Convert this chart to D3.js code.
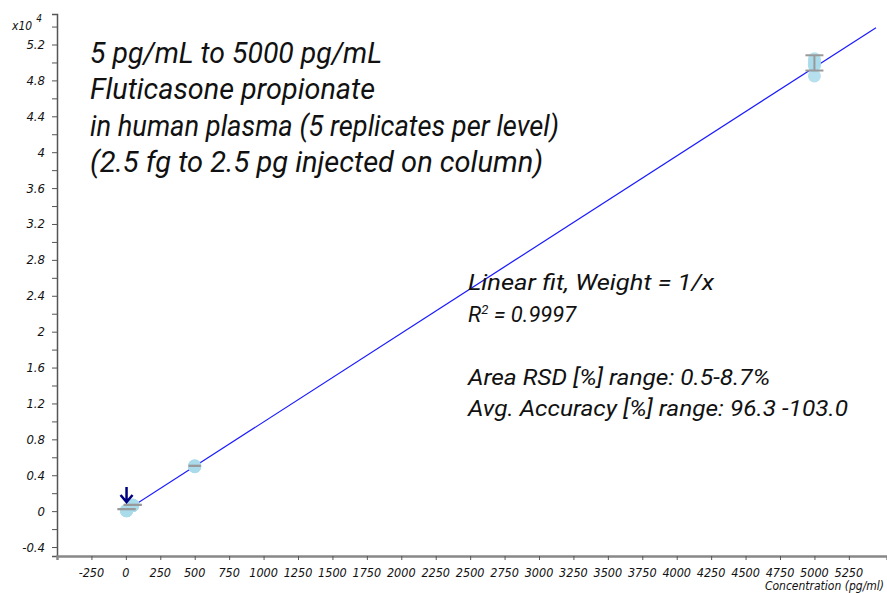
<!DOCTYPE html>
<html>
<head>
<meta charset="utf-8">
<script src="https://cdn.jsdelivr.net/npm/d3@7"></script>
<style>
  body { margin: 0; background: #fff; }
  svg text { font-family: "DejaVu Sans Condensed", sans-serif; font-style: italic; fill: #111; }
  svg text.big { font-family: Roboto, "DejaVu Sans Condensed", sans-serif; font-weight: 400; }
</style>
</head>
<body>
<div id="root"></div>
<script>
// calibration levels (pg/mL) and replicate responses (x10^4)
const levels = [5, 50, 500, 5000];
const replicates = [
  [0.004, 0.006, 0.005, 0.003, 0.007],
  [0.062, 0.066, 0.068, 0.064, 0.065],
  [0.495, 0.502, 0.505, 0.498, 0.500],
  [5.04, 5.01, 4.98, 4.96, 4.85]
];
const errLow  = [0.022, 0.070, 0.505, 4.91];
const errHigh = [0.022, 0.070, 0.505, 5.08];

// fit line y = slope * x + intercept
const fitSlope = 0.000988, fitIntercept = 0.006;
const fitRange = [5, 5447];

const yTicks = [-0.4, -0.2, 0, 0.2, 0.4, 0.6, 0.8, 1, 1.2, 1.4, 1.6, 1.8, 2, 2.2, 2.4, 2.6, 2.8, 3, 3.2, 3.4, 3.6, 3.8, 4, 4.2, 4.4, 4.6, 4.8, 5, 5.2, 5.4];
const yLabels = [-0.4, 0, 0.4, 0.8, 1.2, 1.6, 2, 2.4, 2.8, 3.2, 3.6, 4, 4.4, 4.8, 5.2];
const xTicks = [-250, 0, 250, 500, 750, 1000, 1250, 1500, 1750, 2000, 2250, 2500, 2750, 3000, 3250, 3500, 3750, 4000, 4250, 4500, 4750, 5000, 5250];

const titleLines = ['5 pg/mL to 5000 pg/mL', 'Fluticasone propionate', 'in human plasma (5 replicates per level)', '(2.5 fg to 2.5 pg injected on column)'];
const infoLines = ['Linear fit, Weight = 1/x', 'R2 = 0.9997', '', 'Area RSD [%] range: 0.5-8.7%', 'Avg. Accuracy [%] range: 96.3 -103.0'];

const width = 887, height = 593;
// widths of the text lines as they appear in the picture
const titleWidths = [292, 285, 469, 453];
const infoWidths = [246, 115, 0, 302, 380];

const svg = d3.select('#root').append('svg')
              .attr('width', width)
              .attr('height', height);

const x = d3.scaleLinear().domain([-500, 5527]).range([57, 887]);
const y = d3.scaleLinear().domain([-0.5, 5.54]).range([556, 14]);

// axes
const yAxis = svg.append('g')
                 .attr('transform', `translate(${x.range()[0]},0)`)
                 .call(d3.axisLeft(y).tickValues(yTicks).tickSize(5).tickFormat(''));
yAxis.select('.domain').attr('stroke', '#555').attr('stroke-width', 1.5);
yAxis.selectAll('.tick line').attr('stroke', '#555');

svg.append('g').selectAll('text')
   .data(yLabels).enter()
   .append('text')
   .attr('x', 45)
   .attr('y', d => y(d) + 4.5)
   .attr('text-anchor', 'end')
   .style('font-size', '13px')
   .text(d => d3.format('~g')(d).replace('−', '-'));

const xAxis = svg.append('g')
                 .attr('transform', `translate(0,${y.range()[0]})`)
                 .call(d3.axisBottom(x).tickValues(xTicks).tickSize(4).tickFormat(''));
xAxis.select('.domain').attr('stroke', '#888').attr('stroke-width', 2.5);
xAxis.selectAll('.tick line').attr('stroke', '#555');

svg.append('g').selectAll('text')
   .data(xTicks).enter()
   .append('text')
   .attr('x', d => x(d))
   .attr('y', 577)
   .attr('text-anchor', 'middle')
   .style('font-size', '12.5px')
   .text(d => d);

svg.append('text')
   .attr('x', 884)
   .attr('y', 590)
   .attr('text-anchor', 'end')
   .style('font-size', '12px')
   .text('Concentration (pg/ml)');

const mult = svg.append('text')
                .attr('x', 12)
                .attr('y', 30)
                .style('font-size', '12px');
mult.append('tspan').text('x10');
mult.append('tspan').attr('dx', 4).attr('dy', -8).style('font-size', '10px').text('4');

// fit line
svg.append('line')
   .attr('x1', x(fitRange[0])).attr('y1', y(fitSlope * fitRange[0] + fitIntercept))
   .attr('x2', x(fitRange[1])).attr('y2', y(fitSlope * fitRange[1] + fitIntercept))
   .attr('stroke', '#1a1aff')
   .attr('stroke-width', 1.2);

// replicate points
const pts = [];
levels.forEach((l, i) => replicates[i].forEach(v => pts.push([l, v])));
svg.append('g').selectAll('circle')
   .data(pts).enter()
   .append('circle')
   .attr('cx', d => x(d[0]))
   .attr('cy', d => y(d[1]))
   .attr('r', 6.5)
   .attr('fill', '#a9dbea')
   .attr('fill-opacity', 0.85);

// error bars
const bars = svg.append('g').attr('stroke', '#999').attr('stroke-width', 2);
levels.forEach((l, i) => {
  const w = i === 2 ? 6 : 9;
  bars.append('line').attr('x1', x(l) - w).attr('x2', x(l) + w).attr('y1', y(errHigh[i])).attr('y2', y(errHigh[i]));
  bars.append('line').attr('x1', x(l) - w).attr('x2', x(l) + w).attr('y1', y(errLow[i])).attr('y2', y(errLow[i]));
  bars.append('line').attr('x1', x(l)).attr('x2', x(l)).attr('y1', y(errHigh[i])).attr('y2', y(errLow[i]));
});

// LLOQ arrow
const ax = x(levels[0]);
svg.append('path')
   .attr('d', `M${ax},487 L${ax},502 M${ax - 6},495 L${ax},502 L${ax + 6},495`)
   .attr('fill', 'none')
   .attr('stroke', '#000080')
   .attr('stroke-width', 2.5);

// annotations
svg.append('g').selectAll('text')
   .data(titleLines).enter()
   .append('text')
   .attr('class', 'big')
   .attr('x', 90)
   .attr('y', (d, i) => 63 + i * 36.3)
   .attr('textLength', (d, i) => titleWidths[i])
   .attr('lengthAdjust', 'spacingAndGlyphs')
   .style('font-size', '29px')
   .text(d => d);

const info = svg.append('g').selectAll('text')
   .data(infoLines).enter()
   .append('text')
   .attr('class', 'big')
   .attr('x', 468)
   .attr('y', (d, i) => 290 + i * 31.5)
   .style('font-size', '22px');
info.each(function(d, i) {
  const t = d3.select(this);
  if (d.startsWith('R2')) {
    t.append('tspan').text('R');
    t.append('tspan').attr('dy', -8).style('font-size', '13px').text('2');
    t.append('tspan').attr('dy', 8).text(d.slice(2));
  } else if (d) {
    t.text(d)
     .attr('textLength', infoWidths[i])
     .attr('lengthAdjust', 'spacingAndGlyphs');
  }
});
</script>
</body>
</html>
